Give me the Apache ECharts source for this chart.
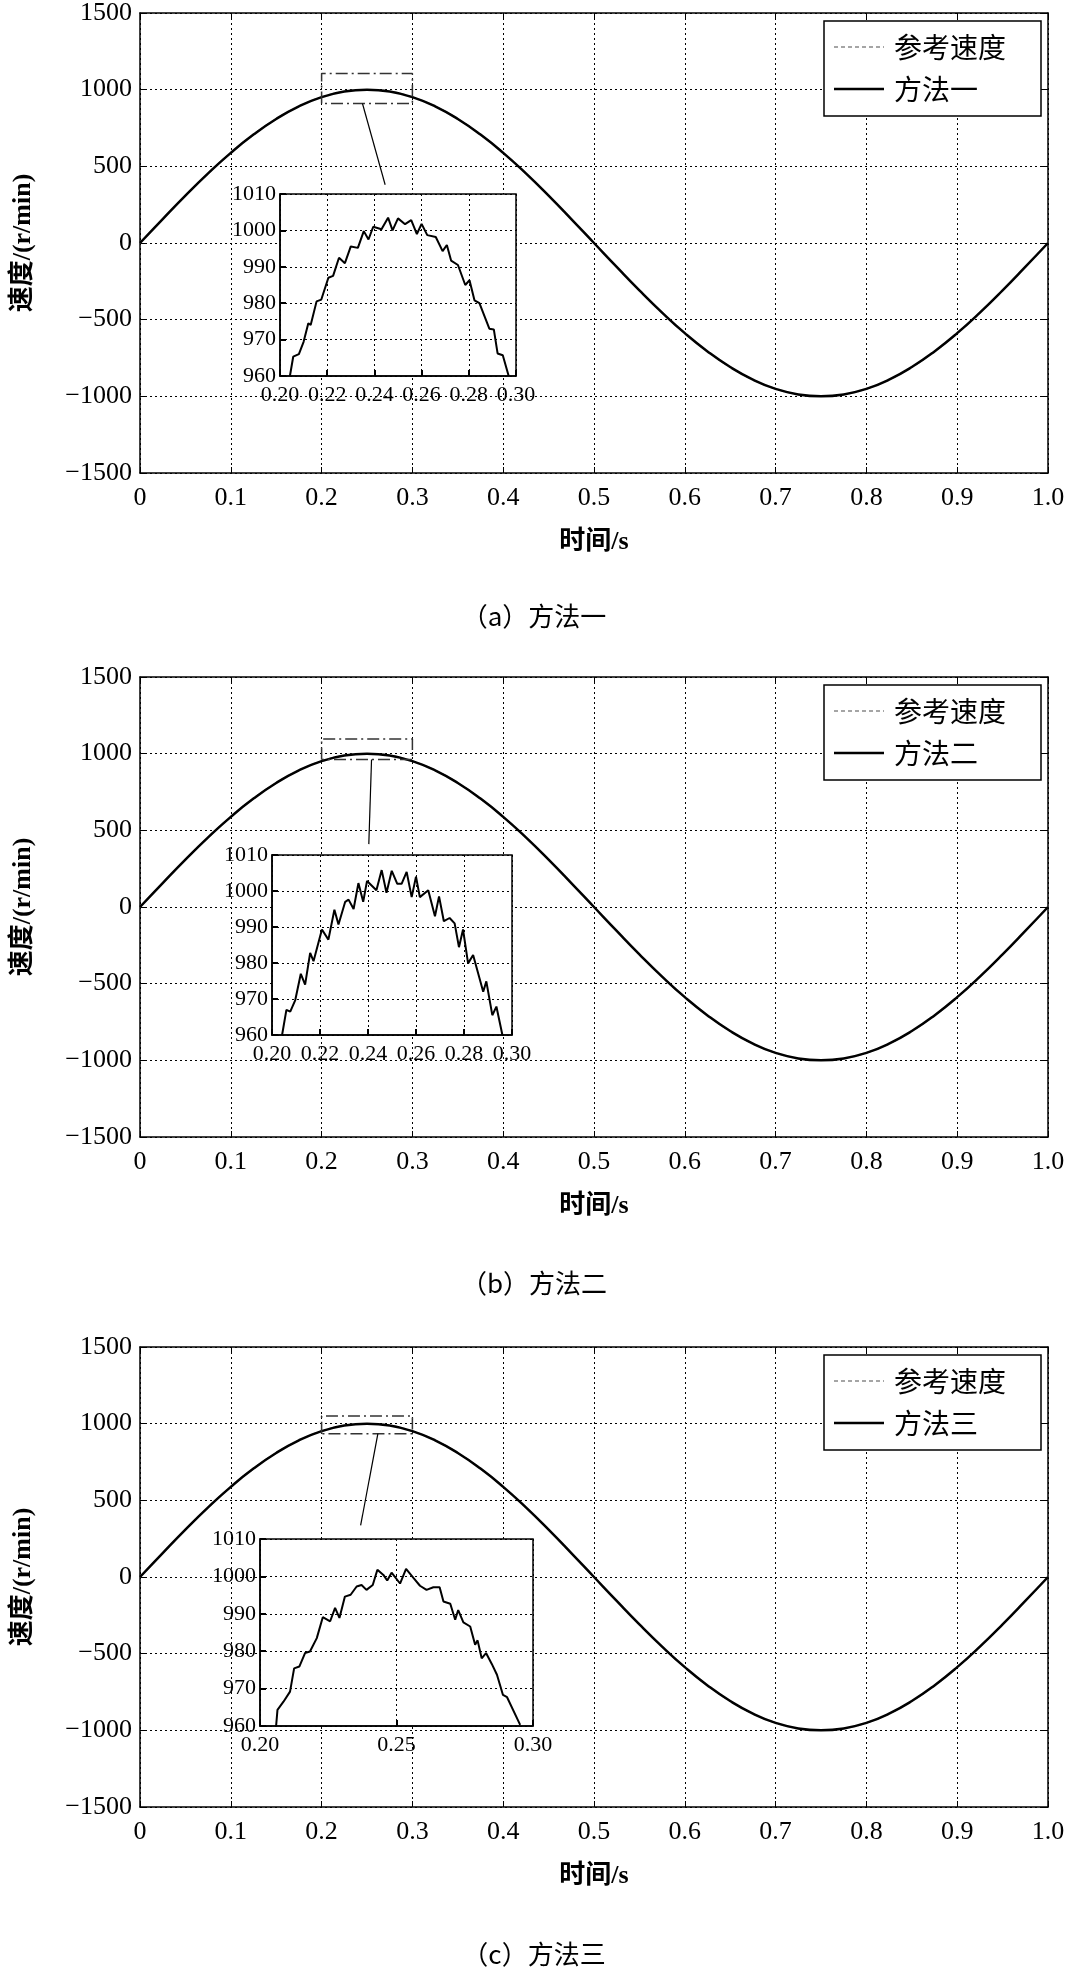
<!DOCTYPE html>
<html><head><meta charset="utf-8">
<script src="https://cdn.jsdelivr.net/npm/echarts@6/dist/echarts.min.js"></script>
<style>html,body{margin:0;padding:0;background:#fff}#c{width:1069px;height:1973px}</style>
</head><body><div id="c"></div>
<script>
const timeAxis=[0,0.025,0.05,0.075,0.1,0.125,0.15,0.175,0.2,0.225,0.25,0.275,0.3,0.325,0.35,0.375,0.4,0.425,0.45,0.475,0.5,0.525,0.55,0.575,0.6,0.625,0.65,0.675,0.7,0.725,0.75,0.775,0.8,0.825,0.85,0.875,0.9,0.925,0.95,0.975,1.0];
const refSpeed=[0,156,309,454,588,707,809,891,951,988,1000,988,951,891,809,707,588,454,309,156,0,-156,-309,-454,-588,-707,-809,-891,-951,-988,-1000,-988,-951,-891,-809,-707,-588,-454,-309,-156,0];
const methodSpeed=refSpeed.slice();
const methodNames=['方法一','方法二','方法三'];
const captions=['（a）方法一','（b）方法二','（c）方法三'];
const xTicks=['0','0.1','0.2','0.3','0.4','0.5','0.6','0.7','0.8','0.9','1.0'];
const zoom1=[[0.2042,960],[0.2056,965.3],[0.208,966],[0.210,969.4],[0.212,974.5],[0.213,974],[0.2155,980.5],[0.2175,981],[0.2205,987],[0.2225,987.5],[0.225,992.5],[0.2275,991],[0.230,995.6],[0.233,995.2],[0.2355,999.8],[0.2375,997.5],[0.2395,1001],[0.243,1000.3],[0.2458,1003.5],[0.2477,1000],[0.25,1003.3],[0.253,1001.7],[0.2556,1002.8],[0.258,999],[0.260,1001.8],[0.2624,998.7],[0.266,998.2],[0.2689,994.3],[0.2707,996],[0.2725,991.7],[0.2754,990.5],[0.2785,985],[0.2803,986.3],[0.2824,980.8],[0.2845,980],[0.2887,973],[0.2906,972.8],[0.2922,966.2],[0.2944,965.7],[0.2969,960]];
const zoom2=[[0.2042,960],[0.206,967],[0.2076,966.5],[0.2097,969.7],[0.212,977],[0.2138,974],[0.2159,982.8],[0.2173,980.5],[0.2208,989.3],[0.2235,986.5],[0.226,994.8],[0.2277,990.7],[0.2305,997],[0.2319,997.6],[0.234,995],[0.236,1002.2],[0.238,997],[0.2396,1002.8],[0.2435,1000.2],[0.2457,1005.8],[0.2477,999.5],[0.2499,1005.6],[0.2522,1002],[0.254,1002],[0.2561,1005.3],[0.2582,998.3],[0.26,1004],[0.2616,998.3],[0.2651,1000.2],[0.2679,993],[0.2696,998.5],[0.2716,991.6],[0.274,992.5],[0.2761,991],[0.2779,984.4],[0.2796,989.3],[0.2817,979.9],[0.2838,982.2],[0.288,972],[0.2893,974.9],[0.2918,965.5],[0.2935,967.9],[0.296,960]];
const zoom3=[[0.2059,960],[0.2064,964.3],[0.2086,966.5],[0.211,969.2],[0.2125,975.4],[0.2144,975.9],[0.2165,979.5],[0.2183,979.9],[0.2208,983.5],[0.223,989.1],[0.2257,988],[0.2275,991.6],[0.2291,988.9],[0.2311,994.6],[0.2332,995.1],[0.2354,997.3],[0.2372,997.7],[0.239,996.4],[0.2413,997.7],[0.243,1001.8],[0.2452,1000.4],[0.2466,998.9],[0.2482,1001],[0.2513,998.1],[0.2535,1002],[0.2562,999.6],[0.2586,997.5],[0.261,996.4],[0.2635,997.1],[0.2658,997.1],[0.2672,993.3],[0.2697,992.7],[0.2715,988.4],[0.2726,991],[0.2745,987.7],[0.277,986.6],[0.2788,981.7],[0.2797,982.9],[0.2812,978.1],[0.2828,979.5],[0.2849,976.6],[0.2868,973.7],[0.289,968.3],[0.2905,967.7],[0.2953,960.3]];
const zoomData=[zoom1,zoom2,zoom3];
const boxes=[[1105,910],[1095,962],[1050,935]];
const connectors=[[[0.245,910],[0.27,380]],[[0.255,962],[0.252,410]],[[0.262,935],[0.243,336]]];
const insetTicks=[0.02,0.02,0.05];

const FONT="'Liberation Serif','Noto Sans CJK SC',serif";
const mainTop=[13,677,1347];
const insetPos=[[280,194,236,182],[272,855,240,180],[260,1539,273,187]];
const grids=[],xA=[],yA=[],series=[],graphic=[];
for(let p=0;p<3;p++){
  grids.push({left:140,top:mainTop[p],width:908,height:460});
  xA.push({type:'value',gridIndex:grids.length-1,min:0,max:1,interval:0.1,
    axisLine:{onZero:false,lineStyle:{color:'#000',width:1.5}},axisTick:{inside:true,length:6,lineStyle:{color:'#000'}},
    splitLine:{lineStyle:{color:'#000',type:[2,3],width:1}},
    axisLabel:{fontFamily:FONT,fontSize:26,color:'#000',margin:12,formatter:v=>xTicks[Math.round(v*10)]},
    name:'时间/s',nameLocation:'middle',nameGap:56,nameTextStyle:{fontFamily:FONT,fontSize:26,fontWeight:'bold',color:'#000'}});
  yA.push({type:'value',gridIndex:grids.length-1,min:-1500,max:1500,interval:500,
    axisLine:{onZero:false,lineStyle:{color:'#000',width:1.5}},axisTick:{inside:true,length:6,lineStyle:{color:'#000'}},
    splitLine:{lineStyle:{color:'#000',type:[2,3],width:1}},
    axisLabel:{fontFamily:FONT,fontSize:26,color:'#000',margin:8,formatter:v=>String(v).replace('-','−')},
    name:'速度/(r/min)',nameLocation:'middle',nameGap:104,nameTextStyle:{fontFamily:FONT,fontSize:26,fontWeight:'bold',color:'#000'}});
  const gi=grids.length-1;
  xA.push({type:'value',gridIndex:gi,position:'top',min:0,max:1,interval:0.1,axisLine:{onZero:false,lineStyle:{color:'#000',width:1.5}},axisTick:{inside:true,length:6},axisLabel:{show:false},splitLine:{show:false}});
  yA.push({type:'value',gridIndex:gi,position:'right',min:-1500,max:1500,interval:500,axisLine:{onZero:false,lineStyle:{color:'#000',width:1.5}},axisTick:{inside:true,length:6},axisLabel:{show:false},splitLine:{show:false}});
  const xi=xA.length-2, yi=yA.length-2;
  series.push({type:'line',xAxisIndex:xi,yAxisIndex:yi,data:timeAxis.map((t,i)=>[t,refSpeed[i]]),smooth:true,showSymbol:false,lineStyle:{color:'#888',type:'dashed',width:1.5},z:3});
  series.push({type:'line',xAxisIndex:xi,yAxisIndex:yi,data:timeAxis.map((t,i)=>[t,methodSpeed[i]]),smooth:true,showSymbol:false,lineStyle:{color:'#000',width:2.5},z:4});
  const [bt,bb]=boxes[p];
  series.push({type:'line',xAxisIndex:xi,yAxisIndex:yi,data:[[0.2,bb],[0.2,bt],[0.3,bt],[0.3,bb],[0.2,bb]],showSymbol:false,lineStyle:{color:'#333',type:[12,4,2,4],width:1.5},z:5});
  series.push({type:'line',xAxisIndex:xi,yAxisIndex:yi,data:connectors[p],showSymbol:false,lineStyle:{color:'#000',width:1.2},z:5});
  const [il,it,iw,ih]=insetPos[p];
  grids.push({left:il,top:it,width:iw,height:ih,backgroundColor:'#fff',show:true,borderColor:'#000',borderWidth:1.5,z:10});
  const g2=grids.length-1;
  xA.push({type:'value',gridIndex:g2,min:0.2,max:0.3,interval:insetTicks[p],z:10,
    axisLine:{onZero:false,lineStyle:{color:'#000',width:1.5}},axisTick:{inside:true,length:6,lineStyle:{color:'#000',width:2}},
    splitLine:{lineStyle:{color:'#000',type:[2,3]}},
    axisLabel:{fontFamily:FONT,fontSize:22,color:'#000',margin:8,formatter:v=>v.toFixed(2)}});
  yA.push({type:'value',gridIndex:g2,min:960,max:1010,interval:10,z:10,
    axisLine:{onZero:false,lineStyle:{color:'#000',width:1.5}},axisTick:{inside:true,length:6,lineStyle:{color:'#000',width:2}},
    splitLine:{lineStyle:{color:'#000',type:[2,3]}},
    axisLabel:{fontFamily:FONT,fontSize:22,color:'#000',margin:4,formatter:v=>String(v)}});
  series.push({type:'line',xAxisIndex:xA.length-1,yAxisIndex:yA.length-1,data:zoomData[p],showSymbol:false,lineStyle:{color:'#000',width:2},z:11});
  const lt=mainTop[p]+8;
  graphic.push({type:'rect',shape:{x:824,y:lt,width:217,height:95},style:{fill:'#fff',stroke:'#000',lineWidth:1.5},z:20});
  graphic.push({type:'line',shape:{x1:834,y1:lt+26,x2:884,y2:lt+26},style:{stroke:'#888',lineWidth:1.5,lineDash:[4,3]},z:21});
  graphic.push({type:'text',style:{x:894,y:lt+26,text:'参考速度',font:"28px 'Noto Sans CJK SC'",fill:'#000',textVerticalAlign:'middle'},z:21});
  graphic.push({type:'line',shape:{x1:834,y1:lt+68,x2:884,y2:lt+68},style:{stroke:'#000',lineWidth:2.5},z:21});
  graphic.push({type:'text',style:{x:894,y:lt+68,text:methodNames[p],font:"28px 'Noto Sans CJK SC'",fill:'#000',textVerticalAlign:'middle'},z:21});
}
const capY=[616,1283,1954];
for(let p=0;p<3;p++) graphic.push({type:'text',style:{x:534,y:capY[p],text:captions[p],font:"26px 'Noto Sans CJK SC'",fill:'#000',textAlign:'center',textVerticalAlign:'middle'}});
const chart=echarts.init(document.getElementById('c'),null,{renderer:'canvas'});
chart.setOption({animation:false,backgroundColor:'#fff',grid:grids,xAxis:xA,yAxis:yA,series:series,graphic:graphic});
</script></body></html>
